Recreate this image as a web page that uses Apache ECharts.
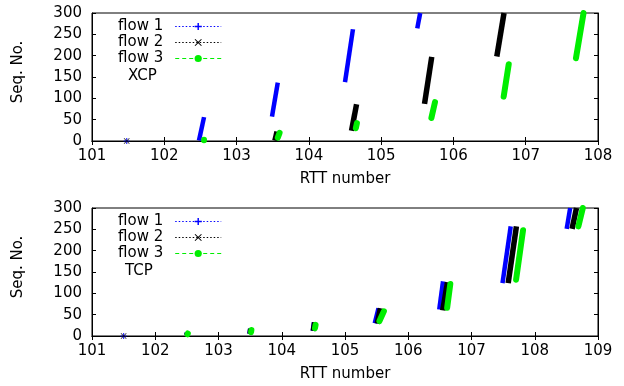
<!DOCTYPE html>
<html>
<head>
<meta charset="utf-8">
<script src="https://cdn.jsdelivr.net/npm/echarts@6/dist/echarts.min.js"></script>
<style>
  html, body { margin: 0; padding: 0; background: #fff; }
  #main { width: 624px; height: 386px; }
</style>
</head>
<body>
<div id="main"></div>
<script>
// each burst: [rttStart, seqStart, rttEnd, seqEnd]
const flowNames = ['flow 1', 'flow 2', 'flow 3'];
const flowColors = ['#0000ff', '#000000', '#00ee00'];
const seqTicks = [0, 50, 100, 150, 200, 250, 300];

// XCP (upper plot)
const xcpFlow1 = [[102.48, 1, 102.55, 56], [103.49, 57, 103.57, 137], [104.50, 138, 104.61, 262], [105.50, 264, 105.54, 300]];
const xcpFlow2 = [[103.53, 1, 103.56, 22], [104.59, 24, 104.66, 86], [105.60, 87, 105.70, 197], [106.60, 198, 106.70, 300]];
const xcpFlow3 = [[102.54, 2, 102.545, 3], [103.57, 8, 103.595, 19], [104.65, 30, 104.665, 42], [105.695, 54, 105.745, 91], [106.695, 104, 106.765, 180], [107.695, 194, 107.80, 300]];
const xcpSingle1 = [[101.48, 0]];
const xcpSingle2 = [[101.48, 0]];

// TCP (lower plot)
const tcpFlow1 = [[102.49, 2, 102.50, 7], [103.49, 5, 103.50, 17], [104.49, 12, 104.51, 32], [105.47, 30, 105.53, 65], [106.49, 62, 106.55, 128], [107.49, 124, 107.62, 257], [108.505, 251, 108.56, 300]];
const tcpFlow2 = [[102.50, 2, 102.51, 7], [103.50, 5, 103.51, 17], [104.50, 12, 104.52, 32], [105.51, 29, 105.56, 65], [106.545, 60, 106.62, 126], [107.58, 124, 107.71, 257], [108.59, 251, 108.66, 300]];
const tcpFlow3 = [[102.51, 4, 102.515, 6], [103.515, 9, 103.52, 14], [104.525, 18, 104.535, 26], [105.545, 35, 105.615, 58], [106.615, 66, 106.665, 122], [107.705, 132, 107.815, 248], [108.69, 257, 108.76, 300]];
const tcpSingle1 = [[101.50, 0]];
const tcpSingle2 = [[101.50, 0]];

const FONT = 'DejaVu Sans';
const plusPath = 'path://M4,0H6V4H10V6H6V10H4V6H0V4H4Z';
const crossPath = 'path://M0,1L1,0L5,4L9,0L10,1L6,5L10,9L9,10L5,6L1,10L0,9L4,5Z';
const flowSymbols = [plusPath, crossPath, 'circle'];
const flowWidths = [4.5, 5.5, 6];

var myChart = echarts.init(document.getElementById('main'));

function xAxes(grid, max) {
  return [
    {
      gridIndex: grid, type: 'value', min: 101, max: max, interval: 1,
      axisLine: { lineStyle: { color: '#000', width: 1 } },
      axisTick: { inside: true, length: 4, lineStyle: { color: '#000' } },
      axisLabel: { color: '#000', fontSize: 15, fontFamily: FONT, margin: 8 },
      splitLine: { show: false },
      name: 'RTT number', nameLocation: 'middle', nameGap: 31,
      nameTextStyle: { color: '#000', fontSize: 15, fontFamily: FONT }
    },
    {
      gridIndex: grid, type: 'value', position: 'top', min: 101, max: max, interval: 1,
      axisLine: { lineStyle: { color: '#000' } },
      axisTick: { inside: true, length: 4, lineStyle: { color: '#000' } },
      axisLabel: { show: false }, splitLine: { show: false }
    }
  ];
}
function yAxes(grid) {
  return [
    {
      gridIndex: grid, type: 'value', min: seqTicks[0], max: seqTicks[seqTicks.length - 1], interval: 50,
      axisLine: { show: true, lineStyle: { color: '#000' } },
      axisTick: { show: true, inside: true, length: 4, lineStyle: { color: '#000' } },
      axisLabel: { color: '#000', fontSize: 15, fontFamily: FONT, margin: 10 },
      splitLine: { show: false },
      name: 'Seq. No.', nameLocation: 'middle', nameGap: 66,
      nameTextStyle: { color: '#000', fontSize: 15, fontFamily: FONT, padding: [0, 0, 0, 10] }
    },
    {
      gridIndex: grid, type: 'value', position: 'right', min: 0, max: 300, interval: 50,
      axisLine: { show: true, lineStyle: { color: '#000' } },
      axisTick: { show: true, inside: true, length: 4, lineStyle: { color: '#000' } },
      axisLabel: { show: false }, splitLine: { show: false }
    }
  ];
}

function burstSeries(name, bursts, i, xi, yi) {
  return {
    name: name, type: 'lines', coordinateSystem: 'cartesian2d',
    xAxisIndex: xi, yAxisIndex: yi, z: 3 + i,
    lineStyle: { color: flowColors[i], width: flowWidths[i], opacity: 1, cap: i === 2 ? 'round' : 'butt' },
    data: bursts.map(function (b) { return { coords: [[b[0], b[1]], [b[2], b[3]]] }; })
  };
}
function singleSeries(name, pts, i, xi, yi) {
  return {
    name: name, type: 'scatter', xAxisIndex: xi, yAxisIndex: yi, z: 3 + i,
    symbol: flowSymbols[i], symbolSize: 6,
    itemStyle: { color: flowColors[i] },
    data: pts
  };
}

const legendSeries = flowNames.map(function (n, i) {
  return {
    name: n, type: 'line', xAxisIndex: 0, yAxisIndex: 0, data: [],
    symbol: flowSymbols[i], symbolSize: 7, color: flowColors[i],
    lineStyle: { color: flowColors[i], width: 1, type: i === 2 ? [4, 3] : [1.5, 2] }
  };
});

function legendAt(top) {
  return {
    data: flowNames, orient: 'vertical', left: 113, top: top, align: 'right',
    itemWidth: 46, itemHeight: 9, itemGap: 1, selectedMode: false,
    lineStyle: { width: 1 },
    textStyle: { color: '#000', fontSize: 15, fontFamily: FONT, padding: [0, 7, 0, 0] }
  };
}

myChart.setOption({
  animation: false,
  backgroundColor: '#fff',
  grid: [
    { left: 92, right: 26, top: 13, bottom: 245, show: true, borderColor: '#000', borderWidth: 1 },
    { left: 92, right: 26, top: 208, bottom: 50, show: true, borderColor: '#000', borderWidth: 1 }
  ],
  xAxis: xAxes(0, 108).concat(xAxes(1, 109)),
  yAxis: yAxes(0).concat(yAxes(1)),
  legend: [legendAt(14), legendAt(209)],
  graphic: [
    { type: 'text', left: 128, top: 69, style: { text: 'XCP', fill: '#000', font: '15px "DejaVu Sans"' } },
    { type: 'text', left: 125, top: 264, style: { text: 'TCP', fill: '#000', font: '15px "DejaVu Sans"' } }
  ],
  series: legendSeries.concat([
    burstSeries('xcp 1', xcpFlow1, 0, 0, 0),
    burstSeries('xcp 2', xcpFlow2, 1, 0, 0),
    burstSeries('xcp 3', xcpFlow3, 2, 0, 0),
    singleSeries('xcp 1 pt', xcpSingle1, 0, 0, 0),
    singleSeries('xcp 2 pt', xcpSingle2, 1, 0, 0),
    burstSeries('tcp 1', tcpFlow1, 0, 2, 2),
    burstSeries('tcp 2', tcpFlow2, 1, 2, 2),
    burstSeries('tcp 3', tcpFlow3, 2, 2, 2),
    singleSeries('tcp 1 pt', tcpSingle1, 0, 2, 2),
    singleSeries('tcp 2 pt', tcpSingle2, 1, 2, 2)
  ])
});
</script>
</body>
</html>
